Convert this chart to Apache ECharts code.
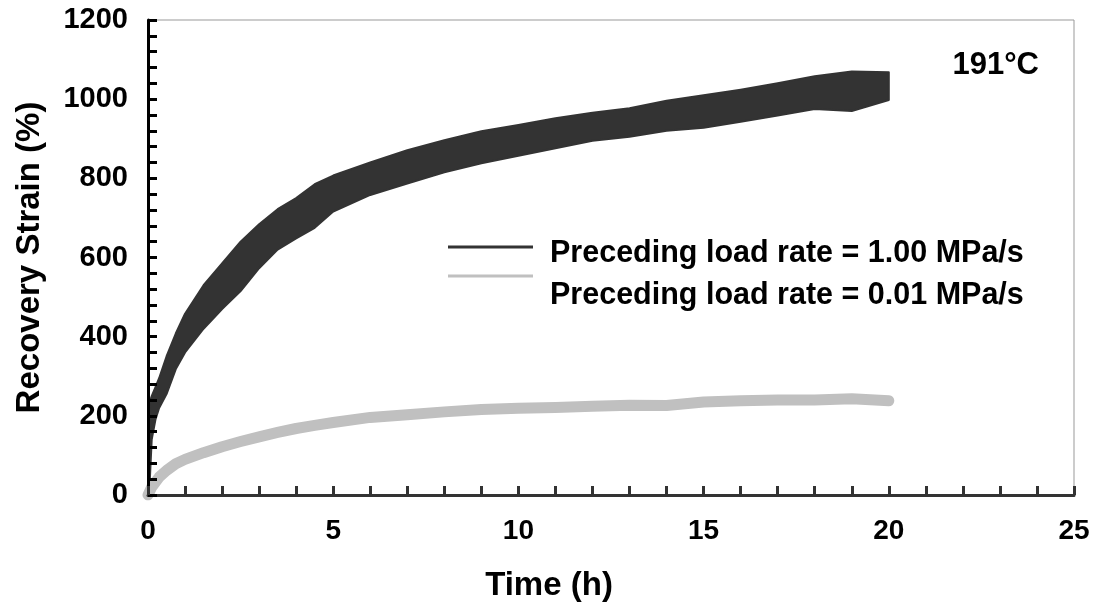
<!DOCTYPE html>
<html>
<head>
<meta charset="utf-8">
<script src="https://cdn.jsdelivr.net/npm/echarts@6/dist/echarts.min.js"></script>
<style>
html,body{margin:0;padding:0;background:#fff;}
#chart{width:1094px;height:613px;}
</style>
</head>
<body>
<div id="chart"></div>
<script>
// Time (h) grid for the fast-rate (1.00 MPa/s) band
const darkTime = [0, 0.03, 0.1, 0.2, 0.3, 0.5, 0.75, 1, 1.5, 2, 2.5, 3, 3.5, 4, 4.5, 5, 6, 7, 8, 9, 10, 11, 12, 13, 14, 15, 16, 17, 18, 19, 20];
// upper and lower edges of the noisy 1.00 MPa/s band (%)
const darkUpper = [0, 230, 250, 272, 295, 350, 408, 458, 530, 585, 640, 684, 722, 750, 785, 807, 840, 871, 896, 919, 935, 952, 966, 977, 996, 1010, 1024, 1040, 1058, 1070, 1068];
const darkLower = [0, 0, 140, 190, 220, 255, 318, 360, 420, 470, 515, 573, 620, 648, 675, 716, 758, 787, 815, 838, 857, 876, 895, 905, 920, 928, 943, 959, 975, 970, 998];
// slow-rate (0.01 MPa/s) curve
const lightTime = [0, 0.1, 0.3, 0.5, 0.75, 1, 1.5, 2, 2.5, 3, 3.5, 4, 4.5, 5, 6, 7, 8, 9, 10, 11, 12, 13, 14, 15, 16, 17, 18, 19, 20];
const lightValues = [0, 20, 45, 62, 79, 90, 107, 122, 135, 147, 158, 168, 176, 183, 196, 203, 210, 216, 219, 221, 224, 227, 226, 235, 238, 240, 240, 243, 238];

const seriesNames = ['Preceding load rate = 1.00 MPa/s', 'Preceding load rate = 0.01 MPa/s'];
const xTicks = [0, 5, 10, 15, 20, 25];
const yTicks = [0, 200, 400, 600, 800, 1000, 1200];
const tempLabel = '191°C';

const FONT = 'Liberation Sans, Arial, sans-serif';

const bandData = darkTime.map((t, i) => [t, darkUpper[i], darkLower[i]]);
const lightData = lightTime.map((t, i) => [t, lightValues[i]]);

function renderBand(params, api) {
  if (params.dataIndex !== 0) return null;
  const pts = [];
  for (let i = 0; i < darkTime.length; i++) pts.push(api.coord([darkTime[i], darkUpper[i]]));
  for (let i = darkTime.length - 1; i >= 0; i--) pts.push(api.coord([darkTime[i], darkLower[i]]));
  return {
    type: 'polygon',
    shape: {points: pts},
    style: {fill: '#333333', stroke: '#333333', lineWidth: 2, lineJoin: 'round'}
  };
}

const chart = echarts.init(document.getElementById('chart'), null, {renderer: 'canvas'});
chart.setOption({
  backgroundColor: '#fff',
  animation: false,
  grid: {left: 148, right: 20, top: 20, bottom: 118, show: true, borderColor: '#999', borderWidth: 1},
  title: {
    text: tempLabel, right: 50, top: 45,
    textStyle: {fontFamily: FONT, fontWeight: 'bold', fontSize: 31, color: '#000'}
  },
  legend: [
    {
      orient: 'vertical', left: 443, top: 240.5, itemWidth: 85, itemHeight: 3, itemGap: 26,
      selectedMode: false, formatter: () => '',
      textStyle: {fontSize: 1, lineHeight: 1},
      data: [
        {name: seriesNames[0], icon: 'rect', itemStyle: {color: '#333333'}},
        {name: seriesNames[1], icon: 'rect', itemStyle: {color: '#c0c0c0'}}
      ]
    },
    {
      orient: 'vertical', left: 540, top: 233, itemWidth: 0, itemHeight: 1, itemGap: 11,
      selectedMode: false, icon: 'none',
      textStyle: {fontFamily: FONT, fontWeight: 'bold', fontSize: 30.5, lineHeight: 30, color: '#000'},
      data: [seriesNames[0], seriesNames[1]]
    }
  ],
  xAxis: {
    type: 'value', min: xTicks[0], max: xTicks[xTicks.length - 1], interval: 5, z: 10,
    name: 'Time (h)', nameLocation: 'middle', nameGap: 74,
    nameTextStyle: {fontFamily: FONT, fontWeight: 'bold', fontSize: 33, color: '#000', padding: [0, 124, 0, 0]},
    axisLine: {lineStyle: {color: '#333', width: 3}},
    axisTick: {inside: true, length: 9, lineStyle: {color: '#333', width: 3}},
    minorTick: {show: true, splitNumber: 5, length: 9, lineStyle: {color: '#333', width: 3}},
    splitLine: {show: false},
    axisLabel: {fontFamily: FONT, fontWeight: 'bold', fontSize: 28, color: '#000', margin: 22,
      formatter: v => xTicks.includes(v) ? String(v) : ''}
  },
  yAxis: {
    type: 'value', min: yTicks[0], max: yTicks[yTicks.length - 1], interval: 200, z: 10,
    name: 'Recovery Strain (%)', nameLocation: 'middle', nameGap: 102,
    nameTextStyle: {fontFamily: FONT, fontWeight: 'bold', fontSize: 33, color: '#000'},
    axisLine: {lineStyle: {color: '#000', width: 3}},
    axisTick: {inside: true, length: 9, lineStyle: {color: '#000', width: 3}},
    minorTick: {show: true, splitNumber: 5, length: 9, lineStyle: {color: '#000', width: 3}},
    splitLine: {show: false},
    axisLabel: {fontFamily: FONT, fontWeight: 'bold', fontSize: 29, color: '#000', margin: 20,
      formatter: v => yTicks.includes(v) ? String(v) : ''}
  },
  series: [
    {
      name: seriesNames[0], type: 'custom', renderItem: renderBand, data: bandData,
      encode: {x: 0, y: [1, 2]}, itemStyle: {color: '#333333'}, clip: true, z: 3
    },
    {
      name: seriesNames[1], type: 'line', data: lightData, symbol: 'none',
      lineStyle: {width: 11, color: '#c0c0c0', cap: 'round', join: 'round'}, itemStyle: {color: '#c0c0c0'}, z: 4
    }
  ]
});
</script>
</body>
</html>
